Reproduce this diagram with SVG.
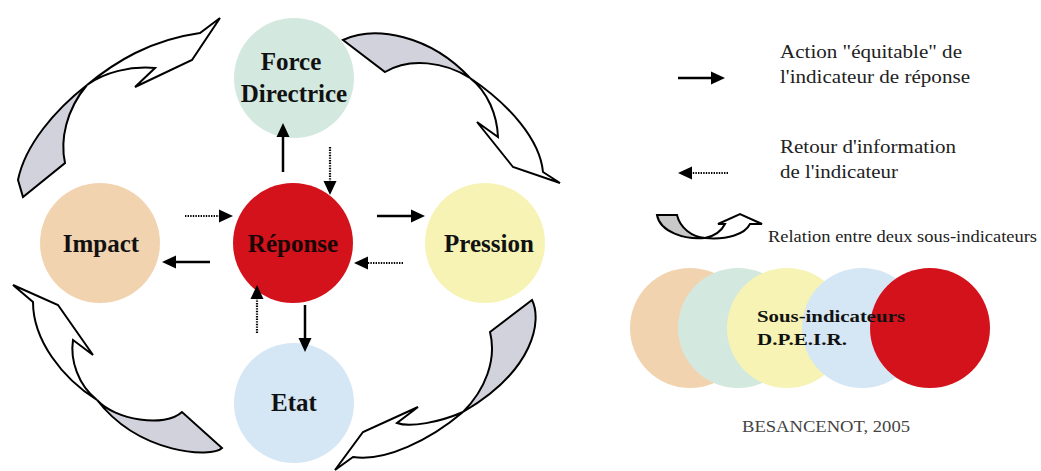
<svg xmlns="http://www.w3.org/2000/svg" width="1041" height="471" viewBox="0 0 1041 471">
<style>
.node{font-family:"Liberation Serif","Times New Roman",serif;font-weight:bold;font-size:25px;fill:#111;text-anchor:middle}
.leg{font-family:"Liberation Serif","Times New Roman",serif;font-size:18px;fill:#222}
.solid{stroke:#000;stroke-width:2.5;fill:none}
.dot{stroke:#000;stroke-width:2.2;stroke-dasharray:1.4 1.2;fill:none}
.rib{stroke:#000;stroke-width:2;stroke-linejoin:miter}
.grey{fill:#d2d2dc}
.white{fill:#fff}
</style>
<defs>
<marker id="ah" viewBox="0 0 14 14" refX="4" refY="7" markerWidth="14" markerHeight="14" markerUnits="userSpaceOnUse" orient="auto">
<path d="M0,0.5 L14,7 L0,13.5 Z" fill="#000"/>
</marker>
</defs>
<rect width="1041" height="471" fill="#fff"/>

<g id="cycle-arrows">
<g id="arrow-top-left">
<path class="rib grey" d="M87,85 C55,110 25,145 18,180 L23,197 L65,163 C60,140 66,110 87,85 Z"/>
<path class="rib white" d="M87,85 C115,62 150,40 200,33 L220,18 L192,60 L135,87 L155,68 C130,66 105,72 87,85 Z"/>
</g>
<g id="arrow-top-right">
<path class="rib grey" d="M343,40 C375,25 430,35 470,78 C445,62 410,57 385,72 Z"/>
<path class="rib white" d="M470,78 C510,105 540,140 543,172 L560,183 L513,167 L477,122 L498,137 C497,115 488,92 470,78 Z"/>
</g>
<g id="arrow-bottom-left">
<path class="rib white" d="M97,400 C62,378 33,340 33,302 L13,285 L58,305 L93,355 L73,340 C70,360 78,385 97,400 Z"/>
<path class="rib grey" d="M97,400 C115,420 165,428 182,412 L222,448 C212,458 140,455 97,400 Z"/>
</g>
<g id="arrow-bottom-right">
<path class="rib grey" d="M490,332 L532,300 C542,320 535,370 463,412 C485,390 497,360 490,332 Z"/>
<path class="rib white" d="M463,412 C440,422 410,428 397,423 L418,407 L363,432 L335,470 L353,457 C385,462 430,440 463,412 Z"/>
</g>
</g>

<g id="node-force">
<circle cx="294" cy="78" r="60" fill="#d3e8df"/>
<text class="node" x="291" y="70">Force</text>
<text class="node" x="294" y="102">Directrice</text>
</g>
<g id="node-impact">
<circle cx="100" cy="243" r="60" fill="#f2d3b0"/>
<text class="node" x="101" y="252">Impact</text>
</g>
<g id="node-reponse">
<circle cx="293" cy="243" r="60" fill="#d3121c"/>
<text class="node" x="293" y="252" style="fill:#1a0505">Réponse</text>
</g>
<g id="node-pression">
<circle cx="485" cy="243" r="60" fill="#f6f3b4"/>
<text class="node" x="489" y="252">Pression</text>
</g>
<g id="node-etat">
<circle cx="294" cy="403" r="60" fill="#d5e6f5"/>
<text class="node" x="294" y="411">Etat</text>
</g>

<g id="connectors">
<line class="solid" x1="283" y1="172" x2="283" y2="133" marker-end="url(#ah)"/>
<line class="solid" x1="210" y1="262" x2="172" y2="262" marker-end="url(#ah)"/>
<line class="solid" x1="377" y1="216" x2="415" y2="216" marker-end="url(#ah)"/>
<line class="solid" x1="305" y1="305" x2="305" y2="342" marker-end="url(#ah)"/>
<line class="dot" x1="330" y1="147" x2="330" y2="185" marker-end="url(#ah)"/>
<line class="dot" x1="185" y1="216" x2="223" y2="216" marker-end="url(#ah)"/>
<line class="dot" x1="403" y1="263" x2="364" y2="263" marker-end="url(#ah)"/>
<line class="dot" x1="257" y1="333" x2="257" y2="295" marker-end="url(#ah)"/>
</g>

<g id="legend">
<line class="solid" x1="678" y1="78" x2="715" y2="78" marker-end="url(#ah)"/>
<text class="leg" x="780" y="58" textLength="182" lengthAdjust="spacingAndGlyphs">Action "équitable" de</text>
<text class="leg" x="780" y="83" textLength="190" lengthAdjust="spacingAndGlyphs">l'indicateur de réponse</text>
<line class="dot" x1="728" y1="173" x2="688" y2="173" marker-end="url(#ah)"/>
<text class="leg" x="780" y="153" textLength="176" lengthAdjust="spacingAndGlyphs">Retour d'information</text>
<text class="leg" x="780" y="178" textLength="118" lengthAdjust="spacingAndGlyphs">de l'indicateur</text>
<g id="legend-ribbon">
<path class="rib" fill="#c8c8c8" d="M657,215 L677,215 C680,228 692,237 705,238 C685,240 660,232 657,215 Z"/>
<path class="rib white" d="M705,238 C715,236 722,230 725,224 L718,224 L740,214 L762,224 L750,224 C745,234 728,240 705,238 Z"/>
</g>
<text class="leg" x="768" y="242" style="font-size:16px" textLength="269" lengthAdjust="spacingAndGlyphs">Relation entre deux sous-indicateurs</text>
</g>

<g id="subindicators">
<circle cx="690" cy="328" r="60" fill="#f2d3b0"/>
<circle cx="738" cy="328" r="60" fill="#d3e8df"/>
<circle cx="787" cy="328" r="60" fill="#f6f3b4"/>
<circle cx="862" cy="328" r="60" fill="#d5e6f5"/>
<circle cx="930" cy="328" r="60" fill="#d3121c"/>
<text class="leg" x="757" y="322" style="font-weight:bold;font-size:17px;fill:#111" textLength="148" lengthAdjust="spacingAndGlyphs">Sous-indicateurs</text>
<text class="leg" x="757" y="345" style="font-weight:bold;font-size:17px;fill:#111" textLength="90" lengthAdjust="spacingAndGlyphs">D.P.E.I.R.</text>
<text class="leg" x="742" y="432" style="font-size:17px;fill:#444" textLength="168" lengthAdjust="spacingAndGlyphs">BESANCENOT, 2005</text>
</g>
</svg>
